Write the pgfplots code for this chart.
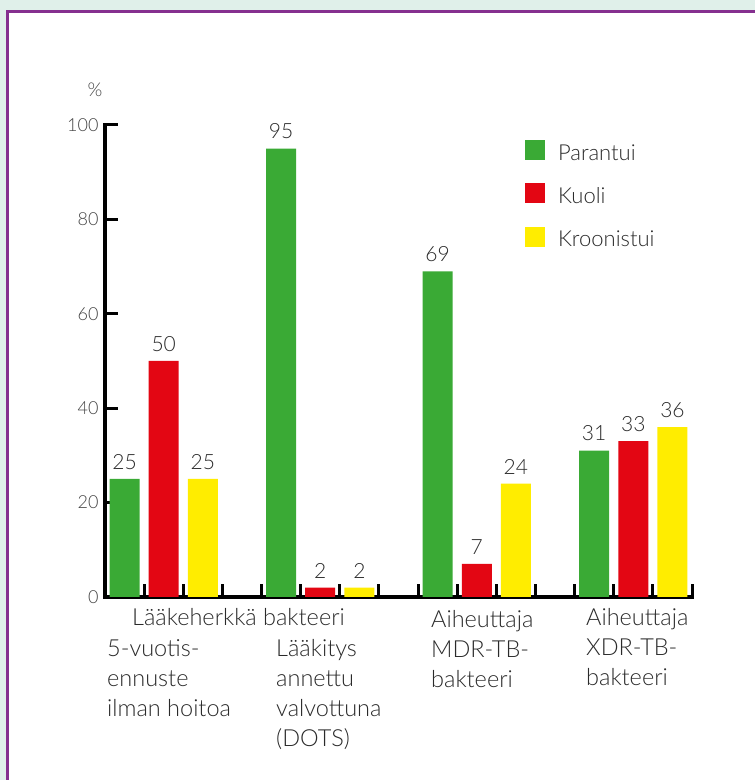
\documentclass[border=0pt]{standalone}
\usepackage{pgfplots}
\pgfplotsset{compat=1.18}
\usepackage{fontspec}
\setmainfont{Lato Light}
\definecolor{mint}{HTML}{E0F0EA}
\definecolor{frame}{HTML}{85308F}
\definecolor{cgreen}{HTML}{3AAA35}
\definecolor{cred}{HTML}{E30613}
\definecolor{cyellow}{HTML}{FFED00}
\definecolor{txt}{HTML}{2A2A2A}
\definecolor{ticktxt}{HTML}{444444}
\begin{document}
\begin{tikzpicture}
\fill[mint] (0pt,0pt) rectangle (755pt,780pt);
\fill[white] (7.5pt,-10pt) rectangle (770pt,768.5pt);
\draw[frame, line width=2.2pt] (7.5pt,-10pt) |- (770pt,768.5pt);
\begin{axis}[
  at={(105pt,183pt)}, anchor=south west,
  scale only axis, width=587pt, height=472pt,
  xmin=0, xmax=15, ymin=0, ymax=100,
  axis x line*=bottom, axis y line*=left,
  axis line style={line width=3.5pt, -, line cap=rect},
  xtick={1,...,15}, xticklabels={},
  ytick={0,20,...,100},
  tick align=inside, major tick length=13pt,
  tick style={line width=3pt, black},
  yticklabel style={font=\fontsize{18}{18}\selectfont, text=ticktxt, xshift=-3pt},
  /pgf/number format/assume math mode=true,
  clip=false,
  legend style={draw=none, fill=none, at={(axis description cs:0.7155,0.9675)}, anchor=north west,
    font=\fontsize{22}{22}\selectfont, text=txt, row sep=19.5pt,
    inner sep=0pt, outer sep=0pt},
  legend cell align=left,
  legend image code/.code={\fill[#1] (0pt,-7pt) rectangle (20pt,13pt);},
  nodes near coords,
  every node near coord/.append style={font=\fontsize{21}{21}\selectfont, text=txt, anchor=south, yshift=6pt},
]
\addplot[ybar, bar width=30pt, bar shift=0pt, fill=cgreen, draw=none] coordinates {(0.5,25) (4.5,95) (8.5,69) (12.5,31)};
\addplot[ybar, bar width=30pt, bar shift=0pt, fill=cred, draw=none] coordinates {(1.5,50) (5.5,2) (9.5,7) (13.5,33)};
\addplot[ybar, bar width=30pt, bar shift=0pt, fill=cyellow, draw=none] coordinates {(2.5,25) (6.5,2) (10.5,24) (14.5,36)};
\legend{\hspace{11pt}Parantui,\hspace{11pt}Kuoli,\hspace{11pt}Kroonistui}
\end{axis}
\node[text=ticktxt, font=\fontsize{19}{19}\selectfont] at (95pt,690pt) {\%};
\begin{scope}[every node/.style={anchor=base west, text=txt, font=\fontsize{23.5}{23.5}\selectfont, inner sep=0pt}]
\node at (132pt,154pt) {Lääkeherkkä bakteeri};
\node at (107pt,123pt) {5-vuotis-};
\node at (107pt,93pt) {ennuste};
\node at (107pt,63pt) {ilman hoitoa};
\node at (276pt,123pt) {Lääkitys};
\node at (276pt,93pt) {annettu};
\node at (276pt,63pt) {valvottuna};
\node at (276pt,33pt) {(DOTS)};
\node at (431pt,152pt) {Aiheuttaja};
\node at (431pt,122pt) {MDR-TB-};
\node at (431pt,92pt) {bakteeri};
\node at (586pt,154pt) {Aiheuttaja};
\node at (586pt,124pt) {XDR-TB-};
\node at (586pt,94pt) {bakteeri};
\end{scope}
\pgfresetboundingbox
\path[use as bounding box] (0pt,0pt) rectangle (755pt,780pt);
\end{tikzpicture}
\end{document}
